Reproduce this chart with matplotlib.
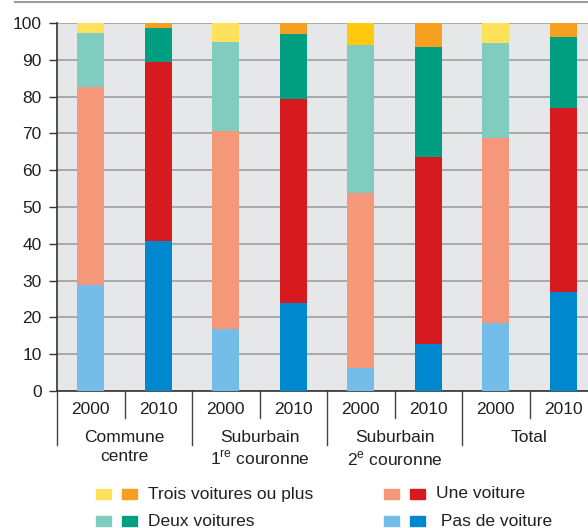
import matplotlib
matplotlib.use("Agg")
from matplotlib import pyplot as plt
from matplotlib.patches import Rectangle
import numpy as np

plt.rcParams['font.family'] = ['Liberation Sans', 'DejaVu Sans']
plt.rcParams['mathtext.fontset'] = 'custom'
plt.rcParams['mathtext.rm'] = 'Liberation Sans'

# data
years = ['2000', '2010'] * 4
groups = ['Commune\ncentre', 'Suburbain\n1$^{\\mathrm{re}}$ couronne',
          'Suburbain\n2$^{\\mathrm{e}}$ couronne', 'Total']
pas_voiture = [28.8, 40.7, 16.8, 24.0, 6.3, 12.8, 18.5, 26.8]
une_voiture = [53.7, 48.8, 53.8, 55.3, 47.5, 50.8, 50.3, 50.2]
deux_voitures = [14.7, 9.1, 24.3, 17.8, 40.2, 29.9, 25.9, 19.2]
trois_plus = [2.8, 1.4, 5.1, 2.9, 6.0, 6.5, 5.3, 3.8]
labels = ['Trois voitures ou plus', 'Une voiture', 'Deux voitures', ' Pas de voiture']

# colours (light for 2000, dark for 2010)
c_pas = ['#74BDE8', '#0088CE']
c_une = ['#F5987A', '#D71920']
c_deux = ['#80CDBF', '#009F81']
c_trois = ['#FFE15B', '#F79F1F']
c_trois_odd = '#FFC90F'  # the 2nd couronne 2000 bar uses a deeper yellow

txt = '#231F20'

fig = plt.figure(figsize=(5.88, 5.28), dpi=100)
ax = fig.add_axes([57/588, 137/528, 540/588, 368/528])
ax.set_facecolor('#E6E7E9')

x = np.arange(8) + 0.5
shade = [i % 2 for i in range(8)]
cols_pas = [c_pas[s] for s in shade]
cols_une = [c_une[s] for s in shade]
cols_deux = [c_deux[s] for s in shade]
cols_trois = [c_trois[s] for s in shade]
cols_trois[4] = c_trois_odd

b1 = np.array(pas_voiture)
b2 = b1 + np.array(une_voiture)
b3 = b2 + np.array(deux_voitures)
w = 0.4
ax.bar(x, pas_voiture, w, color=cols_pas, zorder=3)
ax.bar(x, une_voiture, w, bottom=b1, color=cols_une, zorder=3)
ax.bar(x, deux_voitures, w, bottom=b2, color=cols_deux, zorder=3)
ax.bar(x, trois_plus, w, bottom=b3, color=cols_trois, zorder=3)

ax.set_xlim(0, 8)
ax.set_ylim(0, 100)
ax.set_yticks(np.arange(0, 101, 10))
ax.yaxis.grid(True, color='#9E9E9E', linewidth=1.2, zorder=0)
ax.set_axisbelow(True)
ax.tick_params(axis='y', length=6, width=1, color='#333333', labelsize=12.5,
               labelcolor=txt, pad=5)
ax.set_xticks([])
for s in ['top', 'right']:
    ax.spines[s].set_visible(False)
ax.spines['left'].set_color('#333333')
ax.spines['bottom'].set_color('#333333')
ax.spines['left'].set_linewidth(1.2)
ax.spines['bottom'].set_linewidth(1.2)

tr = ax.get_xaxis_transform()
px = 1 / 368
# separators below the axis
for i in range(9):
    depth = 54 if i % 2 == 0 else 27
    ax.plot([i, i], [0, -depth * px], transform=tr, color='#444444',
            linewidth=1, clip_on=False)
for xi, yr in zip(x, years):
    ax.text(xi, -18 * px, yr, transform=tr, ha='center', va='center',
            fontsize=12.5, color=txt)
for g, name in enumerate(groups):
    ax.text(2 * g + 1, -39 * px, name, transform=tr, ha='center', va='top',
            fontsize=12.5, color=txt, linespacing=1.3)

# top rule
fig.add_artist(plt.Line2D([15/588, 1], [526/528, 526/528], color='#9A9A9A',
                          linewidth=1.5))

# legend
leg_cols = [(c_trois[0], c_trois[1]), (c_une[0], c_une[1]),
            (c_deux[0], c_deux[1]), (c_pas[0], c_pas[1])]
leg_pos = [(96, 494), (384, 494), (96, 521), (384, 521)]
for (lc, dc), (lx, ly), lab in zip(leg_cols, leg_pos, labels):
    for k, c in enumerate([lc, dc]):
        fig.add_artist(Rectangle(((lx + 26 * k) / 588, (528 - ly - 5) / 528),
                                 15 / 588, 10 / 528, color=c))
    fig.text((lx + 52) / 588, (528 - ly) / 528, lab, ha='left', va='center',
             fontsize=12.5, color=txt)

fig.savefig('out.png', dpi=100)
